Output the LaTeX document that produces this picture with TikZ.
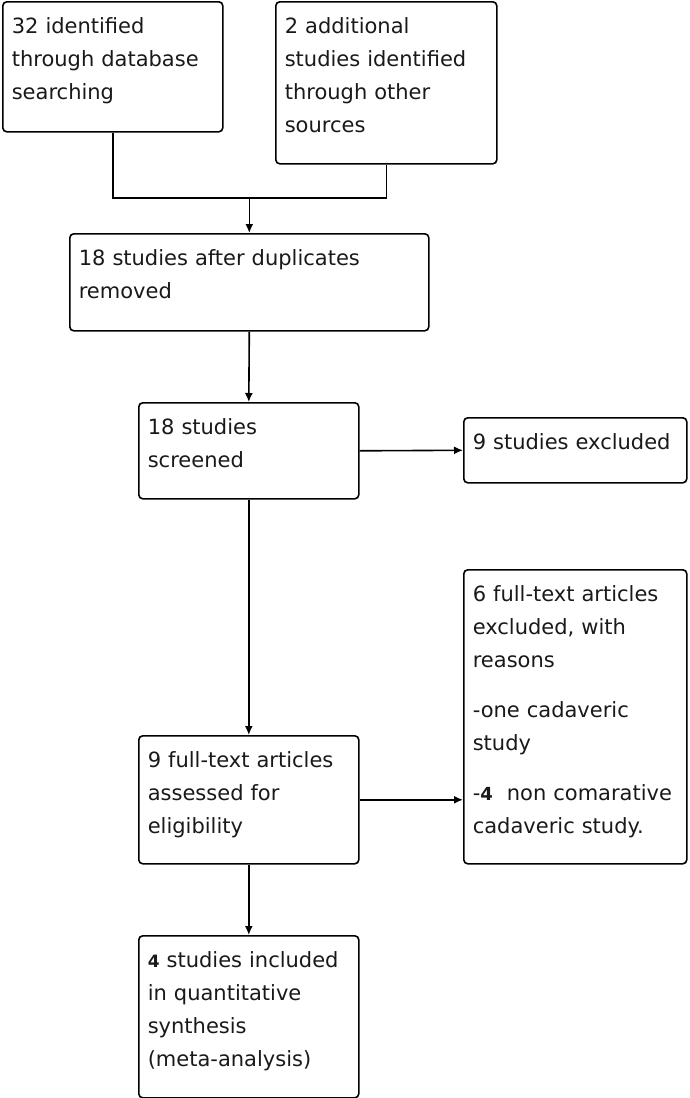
\documentclass[tikz,border=0pt]{standalone}
\usepackage{fontspec}
\setmainfont{DejaVu Sans}
\usepackage{tikz}
\usetikzlibrary{positioning,arrows.meta}

\tikzset{
  stage/.style={draw,line width=1.6pt,rounded corners=4pt,anchor=north west,
    align=left,inner xsep=9pt,inner ysep=16pt,text height=16pt,
    font={\fontsize{21}{33}\selectfont},text=black!90},
  flow/.style={-{Latex[length=9pt,width=8pt]},line width=1.6pt},
  link/.style={line width=1.6pt}
}

\begin{document}
\begin{tikzpicture}[x=1pt,y=-1pt]
	  \useasboundingbox (0,0) rectangle (689,1098);
	  \node (ident) [stage,text width=202pt,text depth=82pt] at (2,1) {32 identified\\through database\\searching};
	  \node (other) [stage,text width=203pt,text depth=114pt] at (275,1) {2 additional\\studies identified\\through other\\sources};
	  \node (dedup) [stage,text width=341pt,text depth=49pt] at (69,233) {18 studies after duplicates\\removed};
	  \node (screen) [stage,text width=202pt,text depth=48pt] at (138,402) {18 studies\\screened};
	  \node (excl) [stage,text width=205pt,text depth=17pt] at (463,417) {9 studies excluded};
	  \node (elig) [stage,text width=202pt,text depth=80pt] at (138,735) {9 full-text articles\\assessed for\\eligibility};
	  \node (fulltext) [stage,text width=205pt,text depth=246pt] at (463,569) {6 full-text articles\\excluded, with\\reasons\\[17pt]-one cadaveric\\study\\[17pt]-{\fontsize{18}{33}\selectfont\bfseries 4}~ non comarative\\cadaveric study.};
	  \node (incl) [stage,text width=202pt,text depth=114pt] at (138,935) {{\fontsize{17}{33}\selectfont\bfseries 4} studies included\\in quantitative\\synthesis\\(meta-analysis)};
	  \coordinate (merge) at ([yshift=35pt]dedup.north);
	  \draw [link] (ident.south) |- (merge) -| (other.south);
	  \draw [flow] (merge) -- (dedup.north);
	  \draw [flow] (dedup.south) -- (screen.north);
	  \draw [flow] (screen.east) -- (excl.west);
	  \draw [flow] (screen.south) -- (elig.north);
	  \draw [flow] (elig.east) -- (elig.east -| fulltext.west);
	  \draw [flow] (elig.south) -- (incl.north);
	\end{tikzpicture}
\end{document}
